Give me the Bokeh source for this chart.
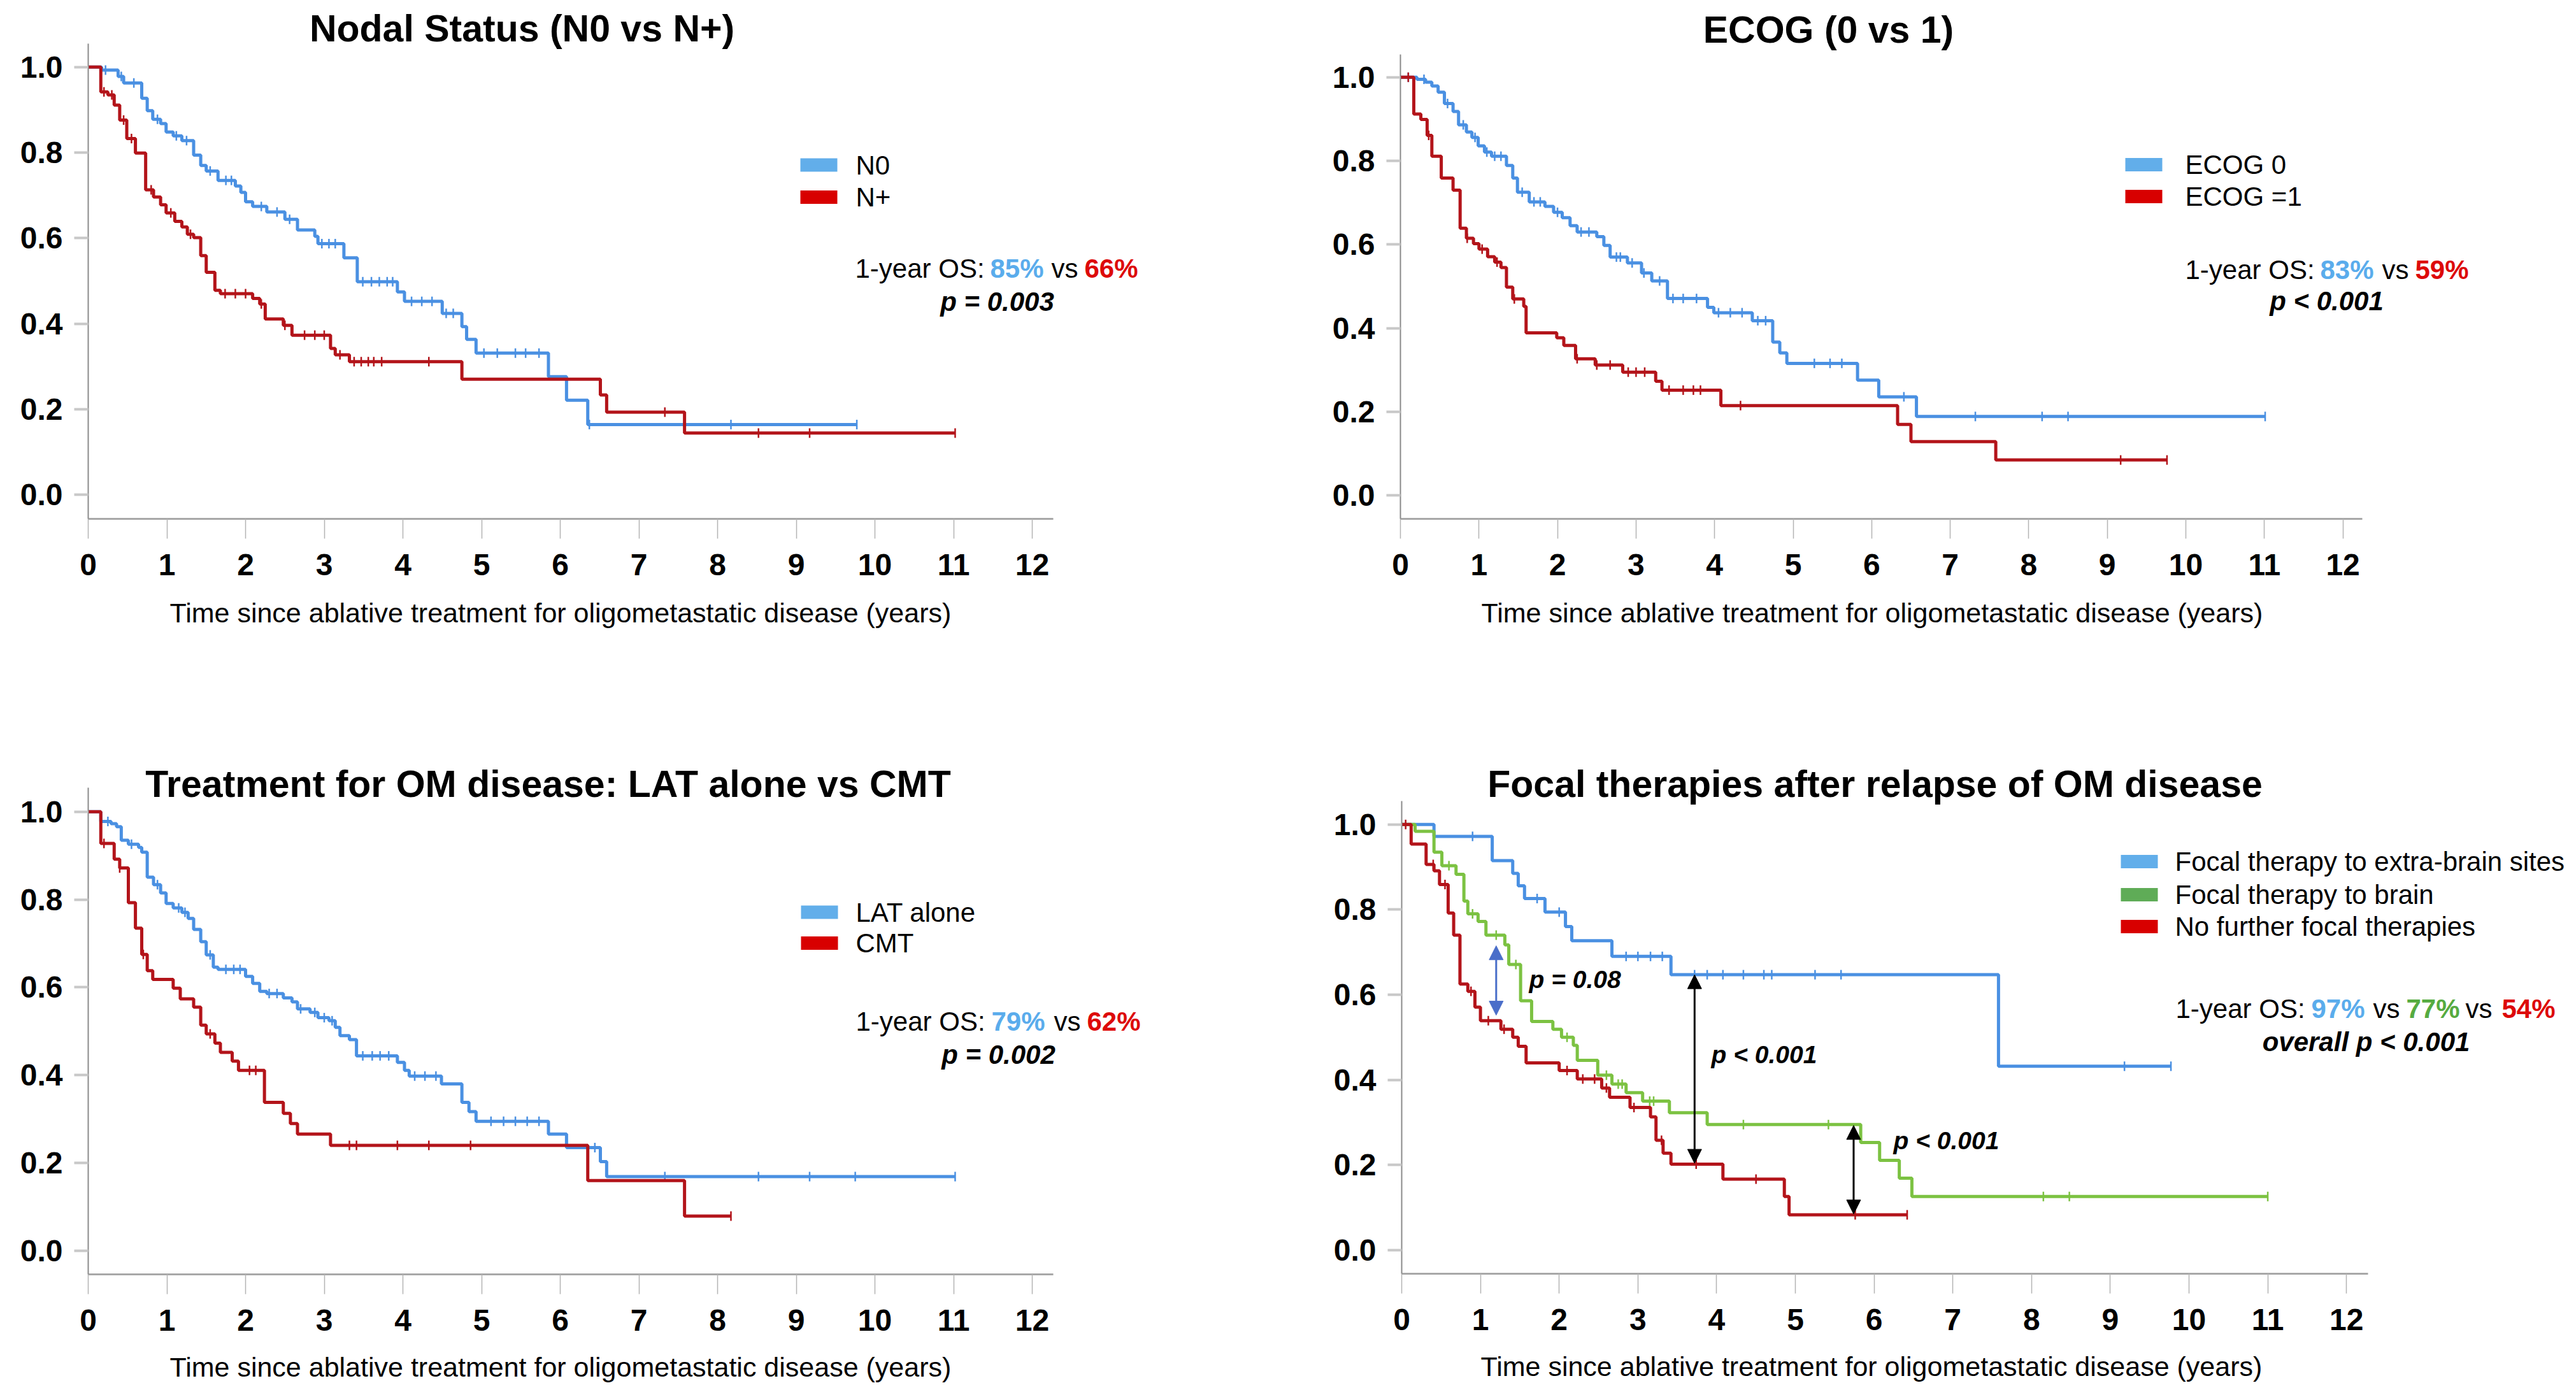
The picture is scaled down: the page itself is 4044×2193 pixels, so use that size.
import numpy as np
from bokeh.plotting import figure
from bokeh.models import Range1d, FixedTicker, Label, Arrow, NormalHead, Title
from bokeh.layouts import row, column
from bokeh.embed import file_html
from bokeh.resources import INLINE

FONT = "Liberation Sans"

# ---------------- data ----------------
x_ticks = list(range(0, 13))
y_ticks = [0.0, 0.2, 0.4, 0.6, 0.8, 1.0]
y_tick_labels = ["0.0", "0.2", "0.4", "0.6", "0.8", "1.0"]
x_axis_title = "Time since ablative treatment for oligometastatic disease (years)"

# Panel 1: Nodal status
n0_t = [0, 0.17, 0.38, 0.45, 0.68, 0.75, 0.82, 0.92, 0.99, 1.08, 1.19, 1.34, 1.43, 1.50, 1.65, 1.87, 1.94, 2.00,
        2.09, 2.27, 2.50, 2.66, 2.88, 2.92, 3.25, 3.42, 3.93, 4.02, 4.50, 4.75, 4.81, 4.93, 5.85, 6.08, 6.35]
n0_s = [1.0, 0.993, 0.978, 0.963, 0.927, 0.898, 0.878, 0.868, 0.848, 0.839, 0.828, 0.794, 0.770, 0.757, 0.735, 0.722,
        0.707, 0.685, 0.674, 0.661, 0.644, 0.619, 0.604, 0.587, 0.554, 0.498, 0.474, 0.452, 0.424, 0.393, 0.363, 0.331,
        0.276, 0.221, 0.164]
n0_end = 9.77
n0_cens = [0.22, 0.42, 0.58, 0.88, 1.12, 1.25, 1.55, 1.75, 1.82, 2.2, 2.4, 2.56, 2.97, 3.06, 3.14, 3.49, 3.6, 3.7,
           3.8, 3.87, 4.11, 4.24, 4.37, 4.55, 4.64, 5.03, 5.2, 5.43, 5.56, 5.73, 6.37, 8.17, 9.77]

np_t = [0, 0.16, 0.25, 0.33, 0.40, 0.49, 0.60, 0.73, 0.83, 0.92, 0.99, 1.10, 1.19, 1.26, 1.34, 1.43, 1.50, 1.61,
        1.68, 2.09, 2.18, 2.25, 2.48, 2.59, 3.08, 3.14, 3.32, 4.75, 6.51, 6.59, 7.58]
np_s = [1.0, 0.942, 0.935, 0.911, 0.876, 0.833, 0.799, 0.713, 0.696, 0.678, 0.659, 0.639, 0.626, 0.609, 0.601, 0.559,
        0.520, 0.478, 0.470, 0.459, 0.446, 0.411, 0.396, 0.373, 0.342, 0.327, 0.311, 0.270, 0.233, 0.193, 0.144]
np_end = 11.02
np_cens = [0.2, 0.3, 0.45, 0.55, 0.8, 1.05, 1.3, 1.74, 1.87, 2.0, 2.2, 2.5, 2.75, 2.88, 3.0, 3.2, 3.38, 3.47, 3.56,
           3.63, 3.73, 4.33, 7.33, 8.52, 9.17, 11.02]

# Panel 2: ECOG
e0_t = [0, 0.21, 0.32, 0.40, 0.48, 0.56, 0.67, 0.74, 0.84, 0.91, 0.99, 1.07, 1.16, 1.35, 1.43, 1.49, 1.64, 1.84,
        1.95, 2.06, 2.16, 2.25, 2.50, 2.59, 2.67, 2.89, 3.07, 3.20, 3.40, 3.91, 3.99, 4.48, 4.74, 4.83, 4.92, 5.82,
        6.09, 6.57]
e0_s = [1.0, 0.995, 0.988, 0.979, 0.964, 0.937, 0.918, 0.886, 0.869, 0.856, 0.836, 0.821, 0.811, 0.789, 0.759, 0.725,
        0.702, 0.691, 0.677, 0.664, 0.645, 0.630, 0.619, 0.598, 0.570, 0.556, 0.532, 0.513, 0.471, 0.450, 0.437, 0.418,
        0.367, 0.341, 0.316, 0.276, 0.236, 0.189]
e0_end = 11.01
e0_cens = [0.1, 0.3, 0.6, 0.8, 0.95, 1.1, 1.2, 1.28, 1.55, 1.7, 1.78, 2.0, 2.3, 2.4, 2.75, 2.8, 2.95, 3.1, 3.3, 3.47,
           3.6, 3.77, 4.05, 4.2, 4.35, 4.55, 4.65, 5.27, 5.47, 5.62, 6.41, 7.32, 8.17, 8.5, 11.01]

e1_t = [0, 0.17, 0.26, 0.34, 0.40, 0.52, 0.67, 0.76, 0.84, 0.93, 1.0, 1.11, 1.20, 1.28, 1.35, 1.43, 1.57, 1.60, 1.99,
        2.08, 2.23, 2.48, 2.83, 3.25, 3.33, 4.08, 6.33, 6.50, 7.58]
e1_s = [1.0, 0.912, 0.899, 0.861, 0.811, 0.759, 0.730, 0.639, 0.615, 0.602, 0.589, 0.571, 0.558, 0.545, 0.498, 0.470,
        0.452, 0.389, 0.377, 0.359, 0.327, 0.312, 0.295, 0.273, 0.252, 0.215, 0.170, 0.129, 0.085]
e1_end = 9.76
e1_cens = [0.1, 0.36, 0.85, 1.04, 1.23, 1.45, 2.25, 2.5, 2.67, 2.9, 3.0, 3.11, 3.42, 3.6, 3.73, 3.82, 4.33, 9.17, 9.76]

# Panel 3: LAT alone vs CMT
lat_t = [0, 0.16, 0.29, 0.36, 0.42, 0.51, 0.64, 0.68, 0.75, 0.83, 0.92, 0.99, 1.08, 1.19, 1.27, 1.34, 1.43, 1.50,
         1.59, 1.65, 2.0, 2.09, 2.18, 2.27, 2.48, 2.59, 2.66, 2.82, 2.92, 3.06, 3.14, 3.20, 3.32, 3.41, 3.93, 4.02,
         4.08, 4.49, 4.75, 4.84, 4.93, 5.85, 6.08, 6.51, 6.59]
lat_s = [1.0, 0.978, 0.973, 0.966, 0.935, 0.926, 0.919, 0.908, 0.851, 0.834, 0.815, 0.791, 0.781, 0.771, 0.757, 0.732,
         0.704, 0.674, 0.646, 0.641, 0.625, 0.609, 0.591, 0.586, 0.576, 0.567, 0.551, 0.543, 0.531, 0.524, 0.509,
         0.490, 0.481, 0.444, 0.429, 0.411, 0.398, 0.380, 0.338, 0.317, 0.295, 0.266, 0.235, 0.203, 0.169]
lat_end = 11.02
lat_cens = [0.25, 0.55, 0.88, 1.15, 1.23, 1.55, 1.75, 1.85, 1.93, 2.3, 2.4, 2.7, 2.88, 3.0, 3.1, 3.49, 3.61, 3.71,
            3.82, 4.15, 4.28, 4.42, 5.12, 5.28, 5.43, 5.58, 5.73, 6.44, 7.33, 8.52, 9.17, 9.75, 11.02]

cmt_t = [0, 0.16, 0.33, 0.40, 0.51, 0.60, 0.68, 0.75, 0.82, 1.08, 1.17, 1.34, 1.43, 1.50, 1.61, 1.68, 1.83, 1.91,
         2.24, 2.48, 2.57, 2.66, 3.08, 6.35, 7.58]
cmt_s = [1.0, 0.928, 0.892, 0.872, 0.793, 0.735, 0.675, 0.638, 0.618, 0.598, 0.574, 0.555, 0.514, 0.494, 0.473,
         0.452, 0.432, 0.411, 0.338, 0.313, 0.290, 0.266, 0.240, 0.160, 0.079]
cmt_end = 8.17
cmt_cens = [0.2, 0.4, 0.7, 1.55, 2.05, 2.13, 3.32, 3.41, 3.93, 4.33, 4.86, 8.17]

# Panel 4: focal therapies after relapse
fx_t = [0, 0.41, 1.15, 1.41, 1.48, 1.56, 1.82, 2.08, 2.16, 2.67, 3.42, 7.58]
fx_s = [1.0, 0.972, 0.915, 0.885, 0.856, 0.826, 0.794, 0.760, 0.727, 0.690, 0.647, 0.432]
fx_end = 9.77
fx_cens = [0.9, 1.72, 2.0, 2.85, 3.0, 3.16, 3.31, 3.72, 3.88, 4.08, 4.34, 4.6, 4.7, 5.25, 5.58, 9.18, 9.77]

fb_t = [0, 0.17, 0.41, 0.51, 0.69, 0.79, 0.84, 0.97, 1.07, 1.31, 1.36, 1.51, 1.65, 1.92, 2.03, 2.18, 2.23, 2.49,
        2.67, 2.85, 3.06, 3.40, 3.88, 5.83, 6.07, 6.32, 6.48]
fb_s = [1.0, 0.984, 0.935, 0.903, 0.883, 0.820, 0.790, 0.772, 0.740, 0.717, 0.671, 0.586, 0.537, 0.519, 0.500, 0.481,
        0.446, 0.411, 0.390, 0.370, 0.350, 0.323, 0.295, 0.253, 0.211, 0.169, 0.126]
fb_end = 11.0
fb_cens = [0.6, 0.9, 1.2, 1.45, 2.1, 2.6, 2.75, 2.8, 3.15, 3.2, 4.34, 5.42, 8.15, 8.48, 11.0]

fn_t = [0, 0.12, 0.31, 0.41, 0.48, 0.59, 0.66, 0.74, 0.84, 0.93, 1.0, 1.26, 1.41, 1.48, 1.58, 2.0, 2.23, 2.54, 2.64,
        2.90, 3.16, 3.23, 3.32, 3.42, 4.08, 4.86, 4.92]
fn_s = [1.0, 0.954, 0.906, 0.891, 0.859, 0.792, 0.740, 0.625, 0.608, 0.571, 0.539, 0.519, 0.500, 0.479, 0.440, 0.422,
        0.402, 0.381, 0.359, 0.335, 0.313, 0.258, 0.228, 0.202, 0.167, 0.126, 0.083]
fn_end = 6.42
fn_cens = [0.05, 0.4, 0.55, 0.88, 1.1, 1.3, 2.1, 2.3, 2.45, 2.6, 2.95, 3.3, 3.74, 4.5, 5.76, 6.42]

# comparison arrows in panel 4 (time, upper survival, lower survival)
arrow_t = [1.2, 3.72, 5.74]
arrow_hi = [0.715, 0.647, 0.293]
arrow_lo = [0.552, 0.204, 0.085]
arrow_p = ["p = 0.08", "p < 0.001", "p < 0.001"]

# ---------------- styles ----------------
BLUE = "#4a90e2"
RED = "#b3141a"
GREEN = "#7cc242"
SW_BLUE = "#62aeea"
SW_RED = "#d80000"
SW_GREEN = "#5fac57"
TX_BLUE = "#5aacec"
TX_RED = "#dd0a0a"
TX_GREEN = "#56ab40"
ARROW_BLUE = "#4a6ec9"


def kaplan(p, g, t, s, end, cens, color):
    tt = list(t) + [end]
    ss = list(s) + [s[-1]]
    p.step(tt, ss, mode="after", line_color=color, line_width=5)
    c = np.asarray(cens, dtype=float)
    idx = np.searchsorted(np.asarray(t), c, side="right") - 1
    yc = np.asarray(s)[idx]
    p.scatter(c, yc, marker="dash", angle=np.pi / 2, size=15, line_color=color, line_width=2.5)


def dx(g, X):
    return (X - g["FL"]) / g["PX"]


def dy(g, Y):
    return (g["Y0"] - Y) / (g["Y0"] - g["Y1"])


def txt(p, g, X, Y, text, size=42, color="black", style="normal", align="left"):
    # Y is the vertical centre of the text line
    p.add_layout(Label(x=dx(g, X), y=dy(g, Y), text=text, text_font=FONT, text_font_size=f"{size}px",
                       text_color=color, text_font_style=style, text_align=align,
                       text_baseline="middle"))


def make_fig(g):
    FX, FY, FW, FH = g["fig"]
    FR = FX + FW          # frame extends to right edge of the figure
    FT = FY               # and to its top edge (so titles / notes are not clipped)
    p = figure(frame_width=FR - g["FL"], frame_height=g["FB"] - FT,
               output_backend="svg", toolbar_location=None,
               x_range=Range1d(0, (FR - g["FL"]) / g["PX"]),
               y_range=Range1d(dy(g, g["FB"]), dy(g, FT)),
               min_border_left=g["FL"] - FX, min_border_right=0,
               min_border_top=0, min_border_bottom=FY + FH - g["FB"])
    try:
        p.title = None
    except Exception:
        p.title.visible = False
    p.outline_line_color = None
    p.grid.visible = False
    p.background_fill_color = "white"
    p.border_fill_color = "white"
    xa, ya = p.xaxis[0], p.yaxis[0]
    xa.bounds = (0, g["AXR"])
    ya.bounds = (dy(g, g["FB"]), g["AXT"])
    xa.ticker = FixedTicker(ticks=x_ticks)
    ya.ticker = FixedTicker(ticks=y_ticks)
    ya.major_label_overrides = {v: l for v, l in zip(y_ticks, y_tick_labels)}
    for a in (xa, ya):
        a.minor_tick_line_color = None
        a.major_tick_in = 0
        a.major_label_text_font = FONT
        a.major_label_text_font_size = "48px"
        a.major_label_text_font_style = "bold"
        a.major_label_text_color = "black"
    xa.axis_line_color = "#a8a8a8"
    xa.axis_line_width = 3
    xa.major_tick_out = 31
    xa.major_tick_line_color = "#b4b4b4"
    xa.major_tick_line_width = 1.5
    xa.major_label_standoff = 24
    ya.axis_line_color = "#8a8a8a"
    ya.axis_line_width = 2
    ya.major_tick_out = 22
    ya.major_tick_line_color = "#c8c8c8"
    ya.major_tick_line_width = 4
    ya.major_label_standoff = 18
    # x-axis title placed below the axis, left-aligned with a pixel offset
    p.add_layout(Title(text=x_axis_title, align="left", offset=g["xl_off"], standoff=g["xl_so"],
                       text_font=FONT, text_font_size="43px", text_font_style="normal",
                       text_color="black"), "below")
    txt(p, g, g["title_x"], g["title_y"], g["title"], size=59, style="bold", align="center")
    return p


def legend(p, g, entries, sw_x, text_x):
    xs, ys, cs = [], [], []
    for (label, col, Y) in entries:
        xs.append(dx(g, sw_x))
        ys.append(dy(g, Y))
        cs.append(col)
        txt(p, g, text_x, Y, label, size=42)
    p.rect(x=xs, y=ys, width=58, height=21, width_units="screen", height_units="screen",
           fill_color=cs, line_color=None)


def os_line(p, g, pieces, Y):
    for (text, X, col) in pieces:
        bold = "bold" if "%" in text else "normal"
        txt(p, g, X, Y, text, size=42, color=col, style=bold)


# ---------------- geometry (page pixels) ----------------
G1 = dict(fig=(0, 0, 2000, 1058), FL=138, FB=814, PX=123.5, Y1=104.8, Y0=776.0, AXR=12.27, AXT=1.055,
          title="Nodal Status (N0 vs N+)", title_x=819, title_y=44, xl_off=128, xl_so=61)
G2 = dict(fig=(2000, 0, 2044, 1058), FL=2198, FB=814, PX=123.3, Y1=120.7, Y0=777.4, AXR=12.25, AXT=1.054,
          title="ECOG (0 vs 1)", title_x=2870, title_y=46, xl_off=127, xl_so=61)
G3 = dict(fig=(0, 1058, 2000, 1135), FL=138, FB=2000, PX=123.5, Y1=1273.8, Y0=1963.0, AXR=12.27, AXT=1.055,
          title="Treatment for OM disease: LAT alone vs CMT", title_x=860, title_y=1230, xl_off=128, xl_so=56)
G4 = dict(fig=(2000, 1058, 2044, 1135), FL=2200, FB=1999, PX=123.6, Y1=1293.7, Y0=1962.0, AXR=12.27, AXT=1.055,
          title="Focal therapies after relapse of OM disease", title_x=2943, title_y=1230, xl_off=124, xl_so=56)

# Panel 1
p1 = make_fig(G1)
kaplan(p1, G1, n0_t, n0_s, n0_end, n0_cens, BLUE)
kaplan(p1, G1, np_t, np_s, np_end, np_cens, RED)
legend(p1, G1, [("N0", SW_BLUE, 258.5), ("N+", SW_RED, 309)], 1285, 1343)
os_line(p1, G1, [("1-year OS:", 1342, "black"), ("85%", 1554, TX_BLUE), ("vs", 1650, "black"),
                 ("66%", 1702, TX_RED)], 421)
txt(p1, G1, 1565, 473, "p = 0.003", size=42, style="bold italic", align="center")

# Panel 2
p2 = make_fig(G2)
kaplan(p2, G2, e0_t, e0_s, e0_end, e0_cens, BLUE)
kaplan(p2, G2, e1_t, e1_s, e1_end, e1_cens, RED)
legend(p2, G2, [("ECOG 0", SW_BLUE, 258), ("ECOG =1", SW_RED, 308)], 3365, 3430)
os_line(p2, G2, [("1-year OS:", 3430, "black"), ("83%", 3642, TX_BLUE), ("vs", 3739, "black"),
                 ("59%", 3791, TX_RED)], 423)
txt(p2, G2, 3652, 472, "p < 0.001", size=42, style="bold italic", align="center")

# Panel 3
p3 = make_fig(G3)
kaplan(p3, G3, lat_t, lat_s, lat_end, lat_cens, BLUE)
kaplan(p3, G3, cmt_t, cmt_s, cmt_end, cmt_cens, RED)
legend(p3, G3, [("LAT alone", SW_BLUE, 1431.5), ("CMT", SW_RED, 1480)], 1286, 1343)
os_line(p3, G3, [("1-year OS:", 1343, "black"), ("79%", 1556, TX_BLUE), ("vs", 1654, "black"),
                 ("62%", 1706, TX_RED)], 1603)
txt(p3, G3, 1567, 1655, "p = 0.002", size=42, style="bold italic", align="center")

# Panel 4
p4 = make_fig(G4)
kaplan(p4, G4, fx_t, fx_s, fx_end, fx_cens, BLUE)
kaplan(p4, G4, fb_t, fb_s, fb_end, fb_cens, GREEN)
kaplan(p4, G4, fn_t, fn_s, fn_end, fn_cens, RED)
legend(p4, G4, [("Focal therapy to extra-brain sites", SW_BLUE, 1352),
                ("Focal therapy to brain", SW_GREEN, 1404),
                ("No further focal therapies", SW_RED, 1454)], 3358, 3414)
os_line(p4, G4, [("1-year OS:", 3415, "black"), ("97%", 3628, TX_BLUE), ("vs", 3725, "black"),
                 ("77%", 3777, TX_GREEN), ("vs", 3870, "black"), ("54%", 3927, TX_RED)], 1583)
txt(p4, G4, 3714, 1635, "overall p < 0.001", size=42, style="bold italic", align="center")

arrow_cols = [ARROW_BLUE, "black", "black"]
label_pos = [(2400, 1537), (2686, 1655), (2972, 1790)]
for t, hi, lo, col, lab, (LX, LY) in zip(arrow_t, arrow_hi, arrow_lo, arrow_cols, arrow_p, label_pos):
    p4.add_layout(Arrow(start=NormalHead(size=22, fill_color=col, line_color=col, line_width=1),
                        end=NormalHead(size=22, fill_color=col, line_color=col, line_width=1),
                        x_start=t, y_start=hi, x_end=t, y_end=lo, line_color=col, line_width=3))
    txt(p4, G4, LX, LY, lab, size=39, style="bold italic")

layout = column(row(p1, p2), row(p3, p4))
open("out.html", "w").write(file_html(layout, INLINE))
